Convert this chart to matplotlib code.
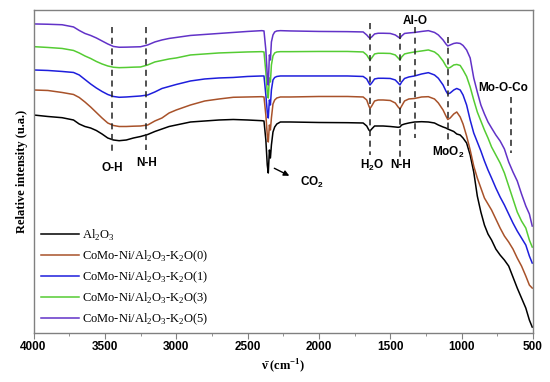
import matplotlib
matplotlib.use("Agg")
import matplotlib.pyplot as plt
from matplotlib.ticker import MultipleLocator

# wavenumber grid (cm-1) shared by all spectra
wn = [4000, 3900, 3800, 3720, 3680, 3640, 3600, 3560, 3520, 3480, 3440, 3400, 3350,
      3300, 3250, 3200, 3150, 3100, 3050, 3000, 2900, 2800, 2700, 2600, 2500, 2400,
      2385, 2372, 2362, 2355, 2347, 2340, 2333, 2322, 2310, 2295, 2270,
      2200, 2000, 1800, 1690, 1665, 1650, 1642, 1630, 1610, 1585, 1550, 1500, 1465,
      1445, 1432, 1420, 1400, 1370, 1330, 1280, 1233, 1190, 1163, 1130, 1110, 1097,
      1080, 1055, 1034,
      1010, 990, 965, 940, 915, 890, 865, 840, 815, 790, 760, 730, 700, 670, 640,
      610, 580, 550, 525, 505]

# relative intensity (arbitrary units, stacked)
al2o3 = [218, 216.5, 215.3, 213, 209, 206.5, 205, 202.5, 199, 195, 193, 192.3, 193,
         195, 196.5, 198.5, 201.5, 204, 206.5, 208, 211, 212, 213, 213.5, 213, 212.3,
         212, 193, 168, 160, 183, 175, 188, 201, 206, 209, 211,
         211, 210.5, 210.3, 210, 207, 203, 202, 204, 207, 207, 207, 206.5, 206,
         205.7, 206, 208, 209, 210, 211, 211.3, 211, 210, 208, 206, 205, 204,
         203, 201.5, 199,
         198, 195, 190, 178, 161, 137, 121, 108, 99, 93, 84, 78, 73, 67, 56,
         45, 35, 25, 13, 6]

k2o_0 = [243, 242.5, 240.5, 238.5, 235.5, 231, 226, 220.5, 215, 210, 207.5, 206.5, 206.5,
         206.8, 207, 208, 212, 215, 220, 223, 228, 232, 234, 235.7, 236, 236.3,
         236, 218, 198, 191, 208, 203, 215, 229, 233, 235, 236,
         236, 236.5, 236.5, 236, 233, 227, 224.5, 227, 232, 233, 233, 232.5, 230,
         226, 224, 227, 232, 234, 234.5, 236, 236.3, 234, 230, 223, 217, 213.5,
         215, 219, 221,
         216, 209, 197, 183, 167, 155, 145, 135, 129, 123, 114, 105, 97, 91, 84,
         75, 67, 57, 48, 45]

k2o_1 = [263, 262.5, 261.5, 260.5, 258, 253.5, 249, 245, 241.5, 238.5, 236.5, 235.7, 236,
         236.5, 237, 238, 241, 244.5, 246.5, 248.5, 252, 254, 255, 255.5, 256.5, 257,
         257, 238, 221, 215, 233, 228, 243, 253, 255.5, 256.5, 257,
         257, 257, 257, 256.5, 254, 250, 248, 250, 254, 254.7, 254.7, 254.5, 253,
         250, 248, 251, 254.5, 256, 257, 259, 260.3, 258, 254.7, 248, 242, 239,
         240, 243, 244.5,
         243, 238, 228, 213, 200, 191, 182, 172, 163, 155, 145, 136, 128, 119, 110,
         102, 95, 88, 77, 70]

k2o_3 = [286.3, 285.5, 284.5, 282.5, 280, 277, 274.5, 271.5, 269, 267, 265.7, 265.3, 265.5,
         265.8, 266, 268, 271, 272.5, 274, 275, 278, 279, 280, 280.5, 281, 281.3,
         281, 261, 241, 235, 255, 251, 268, 277, 280, 281, 281.3,
         281.3, 281.5, 281.5, 281, 278, 274.5, 273, 275, 279, 279.7, 279.7, 279.5, 278,
         275, 273, 276, 279, 280, 281, 282, 283, 281, 278, 272, 267, 264.7,
         265.5, 268, 268.5,
         267.5, 263, 256.5, 246, 233, 221, 212, 203, 195, 186, 178, 170, 160, 147, 134,
         121, 112, 105, 93, 86]

k2o_5 = [309, 308.7, 308.2, 306, 302.5, 299.5, 297.5, 295, 292, 289, 286.5, 285.7, 285.8,
         286, 286.2, 288, 291, 293, 294.5, 295.5, 297.5, 298.5, 299.5, 300.5, 301.5, 302.3,
         302, 283, 258, 248, 278, 273, 291, 298, 301, 302, 302.3,
         302, 301.5, 301.3, 301, 298, 295.5, 294.7, 296, 299, 299.7, 299.7, 299.5, 298,
         296, 294.7, 297, 299.5, 300, 300.5, 301.5, 302.3, 300.5, 298, 293, 289, 287,
         288, 289.5, 290,
         289.5, 287.5, 283, 275, 255, 241, 228, 219, 211, 205, 198, 192, 184, 171, 161,
         152, 139, 127, 119, 107]

labels = ["Al$_{\\mathregular{2}}$O$_{\\mathregular{3}}$",
          "CoMo-Ni/Al$_{\\mathregular{2}}$O$_{\\mathregular{3}}$-K$_{\\mathregular{2}}$O(0)",
          "CoMo-Ni/Al$_{\\mathregular{2}}$O$_{\\mathregular{3}}$-K$_{\\mathregular{2}}$O(1)",
          "CoMo-Ni/Al$_{\\mathregular{2}}$O$_{\\mathregular{3}}$-K$_{\\mathregular{2}}$O(3)",
          "CoMo-Ni/Al$_{\\mathregular{2}}$O$_{\\mathregular{3}}$-K$_{\\mathregular{2}}$O(5)"]
colors = ["#000000", "#A8522A", "#1E1EDC", "#55CC33", "#6232C8"]

# band assignments: (label, wavenumber, dashed line from, to, label x, label y)
bands = [("O-H", 3447, 306, 178, 3450, 165),
         ("N-H", 3215, 306, 183, 3205, 170),
         ("H$_{\\mathregular{2}}$O", 1642, 310, 178, 1630, 168),
         ("N-H", 1432, 300, 176, 1427, 168),
         ("Al-O", 1330, 306, 195, 1326, 312),
         ("MoO$_{\\mathregular{2}}$", 1097, 296, 190, 1094, 181),
         ("Mo-O-Co", 657, 236, 180, 708, 245)]

fig = plt.figure(figsize=(5.5, 3.82), dpi=100)
ax = fig.add_axes([0.061, 0.128, 0.908, 0.846])

for y, lab, c in zip([al2o3, k2o_0, k2o_1, k2o_3, k2o_5], labels, colors):
    ax.plot(wn, y, color=c, lw=1.1, label=lab)

sans = {"family": "Liberation Sans", "weight": "bold", "size": 8.5}
for name, w, y0, y1, tx, ty in bands:
    ax.plot([w, w], [y0, y1], color="#222222", lw=1.1, ls=(0, (4, 3)))
    ax.text(tx, ty, name, ha="center", va="center", fontdict=sans)

# CO2 arrow
ax.annotate("", xy=(2190, 156), xytext=(2330, 166),
            arrowprops=dict(arrowstyle="-|>", color="black", lw=1, mutation_scale=8))
ax.text(2048, 151, "CO$_{\\mathregular{2}}$", ha="center", va="center", fontdict=sans)

ax.set_xlim(4000, 500)
ax.set_ylim(0, 323)
ax.set_yticks([])
ax.xaxis.set_major_locator(MultipleLocator(500))
ax.xaxis.set_minor_locator(MultipleLocator(250))
ax.tick_params(axis="x", which="major", length=4, color="#808080", pad=2)
ax.tick_params(axis="x", which="minor", length=2.5, color="#808080")
for t in ax.get_xticklabels():
    t.set_fontproperties(matplotlib.font_manager.FontProperties(
        family="Liberation Sans", weight="bold", size=8.5))
for s in ax.spines.values():
    s.set_color("#808080")
    s.set_linewidth(1)

serif = {"family": "Liberation Serif", "weight": "bold", "size": 9}
ax.set_ylabel("Relative intensity (u.a.)", fontdict=serif, labelpad=4)
ax.set_xlabel("\u03bd\u0304 (cm$^{\\mathregular{\u22121}}$)", fontdict=serif, labelpad=3)

leg = ax.legend(loc="upper left", bbox_to_anchor=(0.0, 0.35), frameon=False,
                prop={"family": "Liberation Serif", "size": 9},
                handlelength=3.0, handletextpad=0.25, labelspacing=0.45,
                borderaxespad=0.2)

fig.savefig("out.png", dpi=100)
